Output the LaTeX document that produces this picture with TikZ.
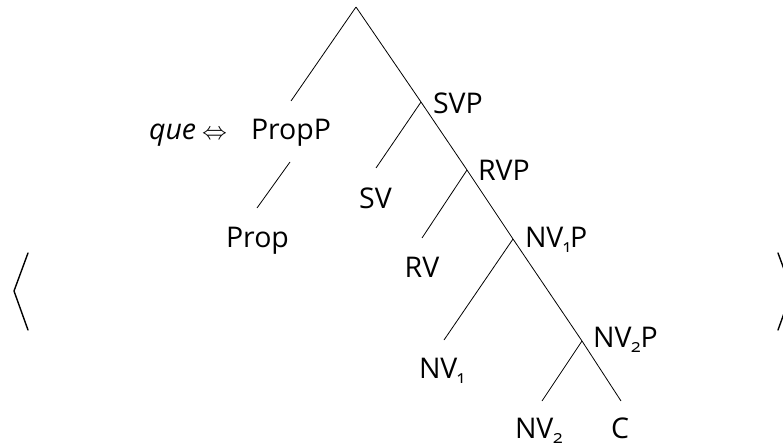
\documentclass[tikz,border=0pt]{standalone}
\usepackage{fontspec}
\setmainfont{Open Sans}[Numbers=OldStyle]
\begin{document}
\begin{tikzpicture}[x=1pt,y=-1pt,
  branch/.style={draw=black,line width=0.8pt},
  fence/.style={draw=black,line width=1.4pt,line cap=round,line join=miter},
  lbl/.style={inner sep=0pt,outer sep=0pt,font=\fontsize{28.5}{30}\selectfont},
]
\newcommand{\idx}[1]{\raisebox{-5pt}{\fontsize{18}{18}\selectfont #1}}
\clip (0,0) rectangle (783,447);

% spine of the tree and its branching points
\coordinate (root) at (356,7);
\coordinate (svp)  at (421,102);
\coordinate (rvp)  at (467,170);
\coordinate (nv1p) at (513,239);
\coordinate (nv2p) at (582,341);
\coordinate (cend) at (621,401);

% lower ends of the branches
\coordinate (propptop) at (291,101);
\coordinate (proppbot) at (290,162);
\coordinate (proptop)  at (257,208);
\coordinate (svend)    at (376,168);
\coordinate (rvend)    at (422,238);
\coordinate (nv1end)   at (444,340);
\coordinate (nv2end)   at (542,401);

% labels
\node[lbl,anchor=base west] (PropP) at (251,139) {PropP};
\node[lbl,anchor=base east] (que) at (227,139) {\textit{que}\hspace{6pt}{\fontsize{31}{31}\selectfont$\Leftrightarrow$}};
\node[lbl,anchor=base] (Prop) at (257.5,247) {Prop};
\node[lbl,anchor=base west] (SVP) at (433,113) {SVP};
\node[lbl,anchor=base] (SV) at (375.5,208) {SV};
\node[lbl,anchor=base west] (RVP) at (478,180) {RVP};
\node[lbl,anchor=base] (RV) at (422,277) {RV};
\node[lbl,anchor=base west] (NVoneP) at (525,247) {NV\idx{1}P};
\node[lbl,anchor=base west] (NVone) at (419,378) {NV\idx{1}};
\node[lbl,anchor=base west] (NVtwoP) at (593,347) {NV\idx{2}P};
\node[lbl,anchor=base west] (NVtwo) at (515,438) {NV\idx{2}};
\node[lbl,anchor=base] (C) at (620,438) {C};

% tree edges
\draw[branch] (root) -- (propptop);
\draw[branch] (proppbot) -- (proptop);
\draw[branch] (root) -- (svp) -- (rvp) -- (nv1p) -- (nv2p) -- (cend);
\draw[branch] (svp) -- (svend);
\draw[branch] (rvp) -- (rvend);
\draw[branch] (nv1p) -- (nv1end);
\draw[branch] (nv2p) -- (nv2end);

% angle brackets around the whole tree
\draw[fence] (28,253) -- (14,291) -- (28,330);
\draw[fence] (778,253) -- (792,291) -- (778,330);
\end{tikzpicture}
\end{document}
